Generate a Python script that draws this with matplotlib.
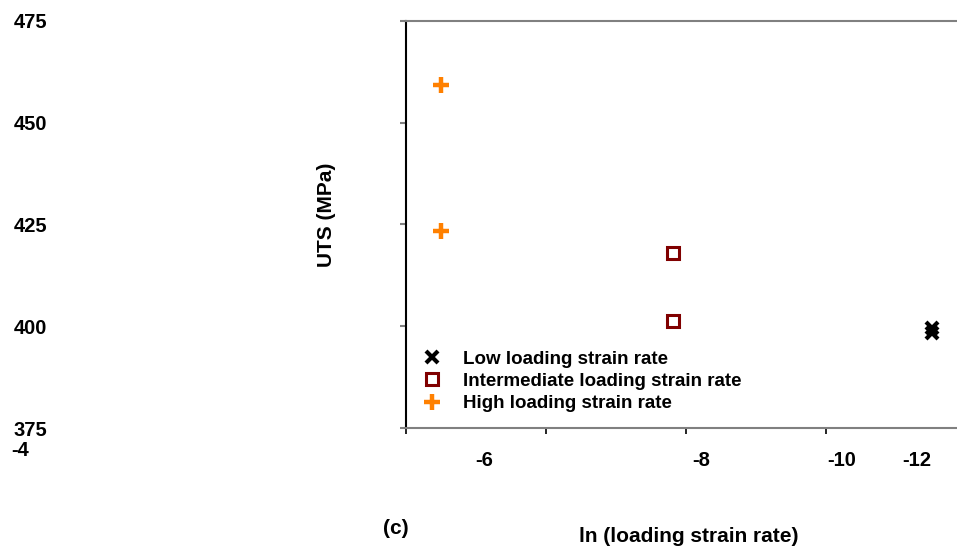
import matplotlib
matplotlib.use("Agg")
import matplotlib.pyplot as plt

plt.rcParams.update({
    "font.family": ["Liberation Sans", "DejaVu Sans"],
    "font.weight": "bold",
})

# ln(strain rate) and UTS values per loading regime
low_x = [-11.51, -11.51]
low_uts = [399.6, 398.4]
mid_x = [-7.81, -7.81]
mid_uts = [418.0, 401.3]
high_x = [-4.5, -4.5]
high_uts = [459.3, 423.4]

y_ticks = [375, 400, 425, 450, 475]
x_ticks = [-4, -6, -8, -10]
# the x tick labels sit off their ticks in the original figure
x_label_text = ["-4", "-6", "-8", "-10", "-12"]
x_label_px = [(20, 450), (484, 461), (701, 461), (842, 461), (917, 461)]

W, H = 957, 547
fig = plt.figure(figsize=(W / 100, H / 100), dpi=100)
ax = fig.add_axes([406 / W, 1 - 428 / H, 1 - 406 / W, (428 - 21) / H])

ax.plot(low_x, low_uts, ls="none", marker="x", ms=9, mew=3, color="black",
        label="Low loading strain rate")
ax.plot(mid_x, mid_uts, ls="none", marker="s", ms=9, mew=2.2, mfc="white",
        mec="#800000", label="Intermediate loading strain rate")
ax.plot(high_x, high_uts, ls="none", marker="+", ms=12, mew=3.2, color="#FF8000",
        label="High loading strain rate")

ax.set_xlim(-4, -4 - 551 / 70)
ax.set_ylim(375, 475)
ax.set_xticks(x_ticks)
ax.set_xticklabels([])
ax.set_yticks(y_ticks)
ax.set_yticklabels([str(v) for v in y_ticks])

for s in ["top", "bottom"]:
    ax.spines[s].set_color("#808080")
    ax.spines[s].set_linewidth(1.5)
ax.spines["left"].set_color("black")
ax.spines["left"].set_linewidth(1.5)
ax.spines["right"].set_visible(False)

ax.tick_params(axis="y", direction="out", length=4.3, width=1.5, color="#808080",
               pad=254, labelsize=14.5)
for lab in ax.get_yticklabels():
    lab.set_fontweight("bold")
ax.tick_params(axis="x", direction="out", length=4.3, width=1.2, color="black")

for txt, (px, py) in zip(x_label_text, x_label_px):
    fig.text(px / W, 1 - py / H, txt, ha="center", va="center",
             fontsize=14.5, fontweight="bold")

ax.set_ylabel("UTS (MPa)", fontsize=15, fontweight="bold", va="center")
ax.yaxis.set_label_coords((327 - 406) / 551, (428 - 215) / 407)
ax.set_xlabel("ln (loading strain rate)", fontsize=15, fontweight="bold", va="center")
ax.xaxis.set_label_coords((689 - 406) / 551, (428 - 537) / 407)
fig.text(396 / W, 1 - 528 / H, "(c)", ha="center", va="center",
         fontsize=15, fontweight="bold")

leg = ax.legend(loc="upper left", bbox_to_anchor=(0.0334, 0.19), frameon=False,
                borderpad=0, borderaxespad=0, handlelength=0.8, handletextpad=1.25,
                labelspacing=0.27, prop={"size": 13.5, "weight": "bold"})

fig.savefig("out.png", dpi=100)
